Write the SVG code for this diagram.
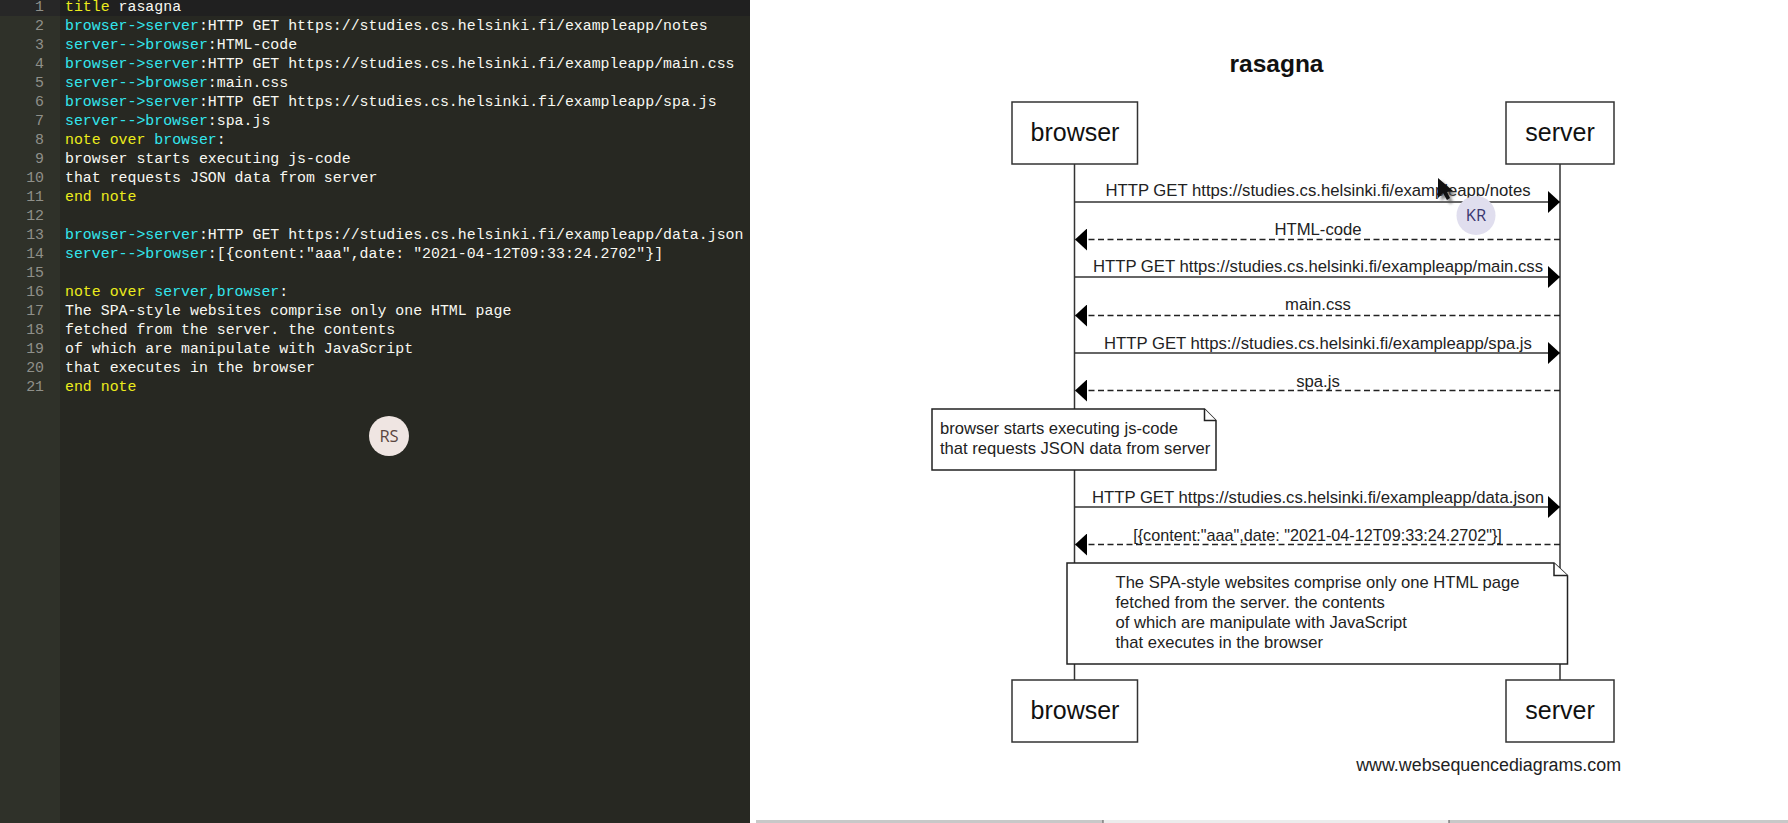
<svg xmlns="http://www.w3.org/2000/svg" width="1788" height="823" viewBox="0 0 1788 823">
<style>
.code{font:14.88px "Liberation Mono","DejaVu Sans Mono",monospace;fill:#f8f8f2;white-space:pre}
.num{font:14.88px "Liberation Mono","DejaVu Sans Mono",monospace;fill:#8f908a;text-anchor:end}
.k{fill:#ecec1c}
.p{fill:#33e6ee}
.box{fill:#fff;stroke:#333;stroke-width:1.5}
.note{fill:#fff;stroke:#222;stroke-width:1.5}
.life{stroke:#333;stroke-width:1.5;fill:none}
.msg{stroke:#333;stroke-width:1.5;fill:none}
.ret{stroke-dasharray:6 3.5;stroke:#222}
.actor{font:25px "Liberation Sans",Arial,sans-serif;fill:#111;text-anchor:middle}
.lab{font:16.7px "Liberation Sans",Arial,sans-serif;fill:#222;text-anchor:middle}
.ntx{font:16.6px "Liberation Sans",Arial,sans-serif;fill:#222}
</style>
<defs>
<marker id="head" markerUnits="userSpaceOnUse" viewBox="0 0 12 22" refX="12" refY="11" markerWidth="12" markerHeight="22" orient="auto"><path d="M0 0L12 11L0 22Z" fill="#000"/></marker>
<filter id="blur" x="-50%" y="-50%" width="200%" height="200%"><feGaussianBlur stdDeviation="1.6"/></filter>
</defs>
<rect width="1788" height="823" fill="#fff"/>
<g id="editor">
<rect x="0" y="0" width="750" height="823" fill="#272822"/>
<rect x="0" y="0" width="60" height="823" fill="#2f3129"/>
<rect x="60" y="0" width="690" height="16" fill="#202020"/>
<rect x="0" y="0" width="60" height="16" fill="#272727"/>
<g>
<text class="num" x="44" y="11">1</text><text class="num" x="44" y="30">2</text><text class="num" x="44" y="49">3</text><text class="num" x="44" y="68">4</text><text class="num" x="44" y="87">5</text><text class="num" x="44" y="106">6</text><text class="num" x="44" y="125">7</text><text class="num" x="44" y="144">8</text><text class="num" x="44" y="163">9</text><text class="num" x="44" y="182">10</text><text class="num" x="44" y="201">11</text><text class="num" x="44" y="220">12</text><text class="num" x="44" y="239">13</text><text class="num" x="44" y="258">14</text><text class="num" x="44" y="277">15</text><text class="num" x="44" y="296">16</text><text class="num" x="44" y="315">17</text><text class="num" x="44" y="334">18</text><text class="num" x="44" y="353">19</text><text class="num" x="44" y="372">20</text><text class="num" x="44" y="391">21</text>
</g>
<g>
<text class="code" x="65" y="11"><tspan class="k">title</tspan> rasagna</text>
<text class="code" x="65" y="30"><tspan class="p">browser-&gt;server</tspan>:HTTP GET https://studies.cs.helsinki.fi/exampleapp/notes</text>
<text class="code" x="65" y="49"><tspan class="p">server--&gt;browser</tspan>:HTML-code</text>
<text class="code" x="65" y="68"><tspan class="p">browser-&gt;server</tspan>:HTTP GET https://studies.cs.helsinki.fi/exampleapp/main.css</text>
<text class="code" x="65" y="87"><tspan class="p">server--&gt;browser</tspan>:main.css</text>
<text class="code" x="65" y="106"><tspan class="p">browser-&gt;server</tspan>:HTTP GET https://studies.cs.helsinki.fi/exampleapp/spa.js</text>
<text class="code" x="65" y="125"><tspan class="p">server--&gt;browser</tspan>:spa.js</text>
<text class="code" x="65" y="144"><tspan class="k">note over</tspan> <tspan class="p">browser</tspan>:</text>
<text class="code" x="65" y="163">browser starts executing js-code</text>
<text class="code" x="65" y="182">that requests JSON data from server</text>
<text class="code k" x="65" y="201">end note</text>
<text class="code" x="65" y="239"><tspan class="p">browser-&gt;server</tspan>:HTTP GET https://studies.cs.helsinki.fi/exampleapp/data.json</text>
<text class="code" x="65" y="258"><tspan class="p">server--&gt;browser</tspan>:[{content:"aaa",date: "2021-04-12T09:33:24.2702"}]</text>
<text class="code" x="65" y="296"><tspan class="k">note over</tspan> <tspan class="p">server,browser</tspan>:</text>
<text class="code" x="65" y="315">The SPA-style websites comprise only one HTML page</text>
<text class="code" x="65" y="334">fetched from the server. the contents</text>
<text class="code" x="65" y="353">of which are manipulate with JavaScript</text>
<text class="code" x="65" y="372">that executes in the browser</text>
<text class="code k" x="65" y="391">end note</text>
</g>
</g>
<g id="avatar-rs">
<circle cx="389" cy="436" r="20" fill="#efe5e2"/>
<text x="389" y="442" font-family="'Open Sans','Noto Sans',sans-serif" font-size="16.5" fill="#5a4540" text-anchor="middle">RS</text>
</g>
<text x="1276.5" y="72" font-family="'Liberation Sans',Arial,sans-serif" font-size="24.5" font-weight="bold" fill="#111" text-anchor="middle">rasagna</text>
<g id="connectors">
<path class="life" d="M1074.5 163V680M1560 163V680"/>
<path class="msg" marker-end="url(#head)" d="M1074.5 202H1560"/>
<path class="msg ret" marker-end="url(#head)" d="M1560 239.500H1075"/>
<path class="msg" marker-end="url(#head)" d="M1074.500 277H1560"/>
<path class="msg ret" marker-end="url(#head)" d="M1560 315.500H1075"/>
<path class="msg" marker-end="url(#head)" d="M1074.500 353H1560"/>
<path class="msg ret" marker-end="url(#head)" d="M1560 390.500H1075"/>
<path class="msg" marker-end="url(#head)" d="M1074.500 507H1560"/>
<path class="msg ret" marker-end="url(#head)" d="M1560 544.500H1075"/>
<text class="lab" x="1318" y="196">HTTP GET https://studies.cs.helsinki.fi/exampleapp/notes</text>
<text class="lab" x="1318" y="235">HTML-code</text>
<text class="lab" x="1318" y="272">HTTP GET https://studies.cs.helsinki.fi/exampleapp/main.css</text>
<text class="lab" x="1318" y="310">main.css</text>
<text class="lab" x="1318" y="349">HTTP GET https://studies.cs.helsinki.fi/exampleapp/spa.js</text>
<text class="lab" x="1318" y="387">spa.js</text>
<text class="lab" x="1318" y="503">HTTP GET https://studies.cs.helsinki.fi/exampleapp/data.json</text>
<text class="lab" x="1317.500" y="541" style="font-size:16.2px">[{content:"aaa",date: "2021-04-12T09:33:24.2702"}]</text>
</g>
<g id="browser-top"><rect class="box" x="1012" y="102" width="125.500" height="62"/><text class="actor" x="1075" y="141">browser</text></g>
<g id="server-top"><rect class="box" x="1506" y="102" width="108" height="62"/><text class="actor" x="1560" y="141">server</text></g>
<g id="note-browser">
<path class="note" d="M932 409H1204.500L1216 420.500V470H932Z"/>
<path class="note" d="M1204.500 409V420.500H1216"/>
<text class="ntx" x="940" y="434">browser starts executing js-code</text>
<text class="ntx" x="940" y="454">that requests JSON data from server</text>
</g>
<g id="note-both">
<path class="note" d="M1067 563H1554L1567.500 575.500V664H1067Z"/>
<path class="note" d="M1554 563V575.500H1567.500"/>
<text class="ntx" x="1115.500" y="588">The SPA-style websites comprise only one HTML page</text>
<text class="ntx" x="1115.500" y="608">fetched from the server. the contents</text>
<text class="ntx" x="1115.500" y="628">of which are manipulate with JavaScript</text>
<text class="ntx" x="1115.500" y="648">that executes in the browser</text>
</g>
<g id="browser-bottom"><rect class="box" x="1012" y="680" width="125.500" height="62"/><text class="actor" x="1075" y="719">browser</text></g>
<g id="server-bottom"><rect class="box" x="1506" y="680" width="108" height="62"/><text class="actor" x="1560" y="719">server</text></g>
<text x="1621" y="771" font-family="'Liberation Sans',Arial,sans-serif" font-size="17.85" fill="#222" text-anchor="end">www.websequencediagrams.com</text>
<g id="avatar-kr">
<circle cx="1476" cy="215.500" r="19.500" fill="#e0deee"/>
<text x="1476" y="221" font-family="'Open Sans','Noto Sans',sans-serif" font-size="16.5" fill="#3a3670" text-anchor="middle">KR</text>
</g>
<g id="cursor">
<path d="M1441 181L1441 201L1446 197L1450 204L1453 202L1450 196L1456 195Z" fill="#555" opacity=".7" filter="url(#blur)"/>
<path d="M1438 178V198L1443 193L1447 200L1450 198L1447 192L1453 191Z" fill="#111"/>
</g>
<g id="scrollbar">
<rect x="756" y="820" width="1032" height="3" fill="#c8c8c8"/>
<rect x="1103" y="820" width="346" height="3" fill="#ececec"/>
<path d="M1103 820V823M1449 820V823" stroke="#555" stroke-width="1"/>
</g>
</svg>
